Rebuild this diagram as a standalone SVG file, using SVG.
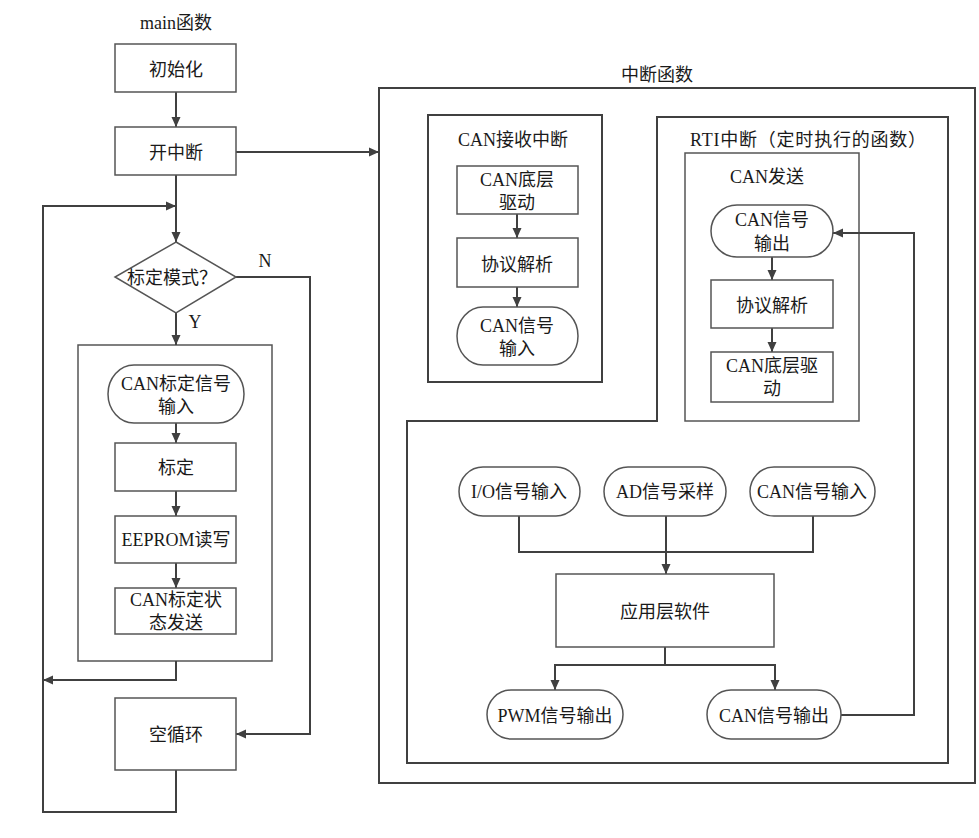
<svg xmlns="http://www.w3.org/2000/svg" width="979" height="838" viewBox="0 0 979 838">
<defs>
<marker id="ah" viewBox="0 0 10 10" refX="10" refY="5" markerWidth="10" markerHeight="10" markerUnits="userSpaceOnUse" orient="auto">
<path d="M0,0.5 L10,5 L0,9.5 z" fill="#404040"/>
</marker>
<style>
.t{font-family:"Liberation Serif","Noto Sans CJK SC",serif;font-size:18px;fill:#1a1a1a;text-anchor:middle}
.b{fill:#fff;stroke:#555;stroke-width:1.5}
.c{fill:none;stroke:#404040;stroke-width:2}
.a{fill:none;stroke:#404040;stroke-width:2;marker-end:url(#ah)}
.o{fill:none;stroke:#404040;stroke-width:2}
</style>
</defs>
<rect width="979" height="838" fill="#fff"/>

<g id="containers">
<rect id="interrupt-outer" class="o" x="379" y="88" width="596" height="695"/>
<text class="t" x="657" y="81">中断函数</text>
<g id="can-rx">
<rect class="o" x="428" y="115" width="174" height="267"/>
<text class="t" x="513" y="146">CAN接收中断</text>
</g>
<g id="rti">
<path class="o" d="M657,117 L948,117 L948,763 L407,763 L407,421 L657,421 Z"/>
<text class="t" x="808" y="146" textLength="236" lengthAdjust="spacing">RTI中断（定时执行的函数）</text>
</g>
<g id="can-tx">
<rect class="b" x="685" y="153" width="174" height="268"/>
<text class="t" x="767" y="183">CAN发送</text>
</g>
<g id="calib-box">
<rect class="b" x="78" y="345" width="194" height="316"/>
</g>
</g>

<g id="connectors">
<line class="a" x1="176" y1="92" x2="176" y2="127"/>
<line class="a" x1="236" y1="152" x2="379" y2="152"/>
<line class="a" x1="176" y1="175" x2="176" y2="242"/>
<polyline class="a" points="176,770 176,812 43,812 43,206 176,206"/>
<line class="a" x1="176" y1="313" x2="176" y2="345"/>
<polyline class="a" points="236,277 310,277 310,734 236,734"/>
<line class="a" x1="176" y1="423" x2="176" y2="443"/>
<line class="a" x1="176" y1="491" x2="176" y2="516"/>
<line class="a" x1="176" y1="563" x2="176" y2="588"/>
<polyline class="a" points="176,661 176,680 43,680"/>
<line class="a" x1="517" y1="214" x2="517" y2="238"/>
<line class="a" x1="517" y1="287" x2="517" y2="307"/>
<line class="a" x1="772" y1="257" x2="772" y2="280"/>
<line class="a" x1="772" y1="328" x2="772" y2="352"/>
<polyline class="a" points="841,715 914,715 914,233 833,233"/>
<polyline class="c" points="519,516 519,552 813,552 813,516"/>
<line class="a" x1="666" y1="516" x2="666" y2="574"/>
<line class="c" x1="665" y1="647" x2="665" y2="665"/>
<polyline class="a" points="665,665 555,665 555,690"/>
<polyline class="a" points="665,665 775,665 775,690"/>
</g>

<g id="main-title"><text class="t" x="176" y="29">main函数</text></g>
<g id="init"><rect class="b" x="115" y="44" width="121" height="48"/><text class="t" x="176" y="76">初始化</text></g>
<g id="enable-int"><rect class="b" x="115" y="127" width="121" height="48"/><text class="t" x="176" y="159">开中断</text></g>
<g id="calib-mode"><path class="b" d="M176,242 L236,277 L176,313 L115,277 Z"/><text class="t" x="172" y="284">标定模式？</text>
<text class="t" x="265" y="267">N</text><text class="t" x="195" y="328">Y</text></g>
<g id="can-calib-in"><rect class="b" x="108" y="365" width="136" height="58" rx="26" ry="29"/><text class="t" x="176" y="390">CAN标定信号</text><text class="t" x="176" y="413">输入</text></g>
<g id="calib"><rect class="b" x="115" y="443" width="121" height="48"/><text class="t" x="176" y="474">标定</text></g>
<g id="eeprom"><rect class="b" x="115" y="516" width="121" height="47"/><text class="t" x="176" y="546">EEPROM读写</text></g>
<g id="calib-status"><rect class="b" x="115" y="588" width="121" height="46"/><text class="t" x="176" y="606">CAN标定状</text><text class="t" x="176" y="629">态发送</text></g>
<g id="idle"><rect class="b" x="115" y="698" width="121" height="72"/><text class="t" x="176" y="741">空循环</text></g>

<g id="rx-driver"><rect class="b" x="457" y="166" width="121" height="48"/><text class="t" x="517" y="186">CAN底层</text><text class="t" x="517" y="209">驱动</text></g>
<g id="rx-parse"><rect class="b" x="457" y="238" width="121" height="49"/><text class="t" x="517" y="271">协议解析</text></g>
<g id="rx-in"><rect class="b" x="457" y="307" width="121" height="58" rx="26" ry="29"/><text class="t" x="517" y="332">CAN信号</text><text class="t" x="517" y="355">输入</text></g>

<g id="tx-out"><rect class="b" x="711" y="205" width="122" height="52" rx="26" ry="26"/><text class="t" x="772" y="226">CAN信号</text><text class="t" x="772" y="250">输出</text></g>
<g id="tx-parse"><rect class="b" x="711" y="280" width="122" height="48"/><text class="t" x="772" y="312">协议解析</text></g>
<g id="tx-driver"><rect class="b" x="711" y="352" width="122" height="50"/><text class="t" x="772" y="372">CAN底层驱</text><text class="t" x="772" y="395">动</text></g>

<g id="io-in"><rect class="b" x="459" y="467" width="121" height="49" rx="24" ry="24.5"/><text class="t" x="519" y="498">I/O信号输入</text></g>
<g id="ad-in"><rect class="b" x="604" y="467" width="122" height="49" rx="24" ry="24.5"/><text class="t" x="665" y="498">AD信号采样</text></g>
<g id="can-in"><rect class="b" x="750" y="467" width="125" height="49" rx="24" ry="24.5"/><text class="t" x="812" y="498">CAN信号输入</text></g>
<g id="app"><rect class="b" x="556" y="574" width="218" height="73"/><text class="t" x="665" y="618">应用层软件</text></g>
<g id="pwm-out"><rect class="b" x="487" y="690" width="136" height="49" rx="24" ry="24.5"/><text class="t" x="555" y="722">PWM信号输出</text></g>
<g id="can-out"><rect class="b" x="707" y="690" width="134" height="49" rx="24" ry="24.5"/><text class="t" x="774" y="722">CAN信号输出</text></g>
</svg>
